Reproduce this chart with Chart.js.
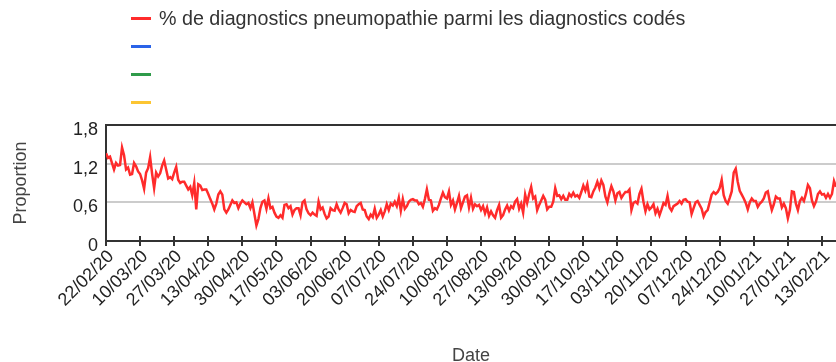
<!DOCTYPE html>
<html lang="fr">
<head>
<meta charset="utf-8">
<title>Pneumopathies</title>
<script src="https://cdn.jsdelivr.net/npm/chart.js"></script>
<style>
  html, body { margin: 0; padding: 0; background: #fff; overflow: hidden; }
  #wrap { position: relative; width: 836px; height: 362px; }
  #legend { position: absolute; left: 131px; top: 4px; font-family: Arial, "Liberation Sans", sans-serif; font-size: 19.7px; color: #333; }
  .row { display: flex; align-items: center; height: 28px; }
  .swatch { width: 20px; height: 3px; margin-right: 8px; }
</style>
</head>
<body>
<div id="wrap">
  <canvas id="chart"></canvas>
  <div id="legend"></div>
</div>
<script>
// --- DATA ---
// daily share (%) from 22/02/20, one value per day
const pneumoShare = [
  1.36, 1.29, 1.31, 1.21, 1.11, 1.21, 1.17, 1.18, 1.45, 1.33,
  1.11, 1.14, 1.03, 1.04, 1.21, 1.16, 1.08, 1.04, 0.94, 0.81,
  1.06, 1.13, 1.30, 1.04, 0.82, 1.06, 1.00, 1.05, 1.17, 1.25,
  1.11, 0.97, 0.99, 0.96, 1.06, 1.15, 0.95, 0.90, 0.92, 0.92,
  0.86, 0.80, 0.84, 0.71, 0.90, 0.49, 0.88, 0.86, 0.79, 0.80,
  0.80, 0.73, 0.65, 0.58, 0.49, 0.58, 0.72, 0.77, 0.72, 0.49,
  0.44, 0.49, 0.56, 0.63, 0.59, 0.60, 0.51, 0.58, 0.63, 0.60,
  0.57, 0.59, 0.51, 0.60, 0.42, 0.24, 0.34, 0.51, 0.61, 0.63,
  0.50, 0.66, 0.51, 0.53, 0.44, 0.38, 0.36, 0.40, 0.36, 0.56,
  0.57, 0.51, 0.54, 0.41, 0.48, 0.51, 0.51, 0.40, 0.60, 0.63,
  0.49, 0.43, 0.40, 0.44, 0.41, 0.39, 0.61, 0.49, 0.52, 0.42,
  0.35, 0.38, 0.51, 0.48, 0.47, 0.57, 0.49, 0.44, 0.51, 0.59,
  0.57, 0.43, 0.48, 0.46, 0.45, 0.54, 0.57, 0.59, 0.49, 0.48,
  0.38, 0.34, 0.41, 0.37, 0.50, 0.36, 0.41, 0.48, 0.38, 0.46,
  0.57, 0.48, 0.58, 0.55, 0.61, 0.54, 0.67, 0.47, 0.65, 0.50,
  0.54, 0.61, 0.64, 0.65, 0.63, 0.63, 0.57, 0.59, 0.53, 0.65,
  0.80, 0.64, 0.63, 0.47, 0.51, 0.49, 0.56, 0.66, 0.75, 0.68,
  0.66, 0.77, 0.56, 0.63, 0.49, 0.59, 0.70, 0.51, 0.60, 0.69,
  0.71, 0.52, 0.67, 0.50, 0.57, 0.54, 0.56, 0.48, 0.54, 0.43,
  0.52, 0.39, 0.46, 0.40, 0.36, 0.48, 0.56, 0.36, 0.40, 0.49,
  0.55, 0.47, 0.54, 0.51, 0.61, 0.65, 0.50, 0.58, 0.44, 0.72,
  0.59, 0.73, 0.84, 0.66, 0.69, 0.48, 0.56, 0.63, 0.70, 0.64,
  0.49, 0.53, 0.53, 0.61, 0.82, 0.70, 0.71, 0.65, 0.70, 0.64,
  0.64, 0.73, 0.69, 0.75, 0.69, 0.71, 0.67, 0.76, 0.86, 0.78,
  0.88, 0.69, 0.68, 0.77, 0.83, 0.92, 0.82, 0.94, 0.87, 0.69,
  0.60, 0.74, 0.85, 0.77, 0.63, 0.74, 0.76, 0.67, 0.72, 0.76,
  0.76, 0.80, 0.48, 0.59, 0.61, 0.58, 0.73, 0.81, 0.61, 0.46,
  0.57, 0.49, 0.52, 0.57, 0.43, 0.50, 0.40, 0.49, 0.59, 0.56,
  0.70, 0.52, 0.47, 0.54, 0.56, 0.58, 0.62, 0.58, 0.64, 0.65,
  0.61, 0.60, 0.42, 0.51, 0.60, 0.62, 0.56, 0.50, 0.38, 0.45,
  0.48, 0.60, 0.72, 0.76, 0.73, 0.76, 0.82, 0.95, 0.71, 0.62,
  0.58, 0.67, 0.77, 1.06, 1.12, 0.92, 0.78, 0.72, 0.66, 0.59,
  0.49, 0.60, 0.66, 0.62, 0.62, 0.53, 0.58, 0.61, 0.66, 0.75,
  0.77, 0.61, 0.48, 0.57, 0.69, 0.66, 0.66, 0.52, 0.58, 0.51,
  0.35, 0.48, 0.77, 0.76, 0.58, 0.48, 0.62, 0.67, 0.62, 0.73,
  0.87, 0.82, 0.63, 0.54, 0.61, 0.73, 0.77, 0.72, 0.73, 0.67,
  0.73, 0.67, 0.73, 0.93, 0.84
];

// one label every 17 days
const xTickLabels = [
  '22/02/20', '10/03/20', '27/03/20', '13/04/20', '30/04/20', '17/05/20',
  '03/06/20', '20/06/20', '07/07/20', '24/07/20', '10/08/20', '27/08/20',
  '13/09/20', '30/09/20', '17/10/20', '03/11/20', '20/11/20', '07/12/20',
  '24/12/20', '10/01/21', '27/01/21', '13/02/21'
];
const xTickStep = 17;
const yTickLabels = ['0', '0,6', '1,2', '1,8'];

const seriesLabels = ['% de diagnostics pneumopathie parmi les diagnostics codés', '', '', ''];
const seriesColors = ['#ff2b2b', '#2a63e8', '#2f9b4a', '#fcc532'];

const FONT = 'Arial, "Liberation Sans", sans-serif';

// --- short tick marks crossing the date axis ---
const crossTicks = {
  id: 'crossTicks',
  afterDraw(chart) {
    const { ctx, chartArea, scales: { x } } = chart;
    ctx.save();
    ctx.strokeStyle = '#333';
    ctx.lineWidth = 2;
    x.ticks.forEach(t => {
      const px = Math.round(x.getPixelForValue(t.value));
      ctx.beginPath();
      ctx.moveTo(px, chartArea.bottom - 5);
      ctx.lineTo(px, chartArea.bottom + 5);
      ctx.stroke();
    });
    ctx.restore();
  }
};

const datasets = seriesLabels.map((label, i) => ({
  label: label,
  data: i === 0 ? pneumoShare.map((v, d) => ({ x: d, y: v })) : [],
  borderColor: seriesColors[i],
  backgroundColor: seriesColors[i],
  borderWidth: 2.5,
  pointRadius: 0,
  tension: 0
}));

const chart = new Chart(document.getElementById('chart'), {
  type: 'line',
  data: { datasets: datasets },
  plugins: [crossTicks],
  options: {
    responsive: true,
    maintainAspectRatio: false,
    animation: false,
    layout: { padding: { top: 125, left: 0, right: 0, bottom: 0 } },
    plugins: { legend: { display: false }, tooltip: { enabled: false } },
    scales: {
      x: {
        type: 'linear',
        min: 0,
        max: 364,
        afterBuildTicks: (scale) => {
          scale.ticks = xTickLabels.map((_, i) => ({ value: i * xTickStep }));
        },
        afterFit: (scale) => {
          scale.height = 121;
          scale.paddingRight = 0;
        },
        ticks: {
          autoSkip: false,
          minRotation: 45,
          maxRotation: 45,
          padding: -3,
          labelOffset: 5,
          color: '#222',
          font: { family: FONT, size: 18 },
          callback: (v) => xTickLabels[Math.round(v / xTickStep)]
        },
        grid: { display: false },
        border: { color: '#333', width: 2 },
        title: {
          display: true,
          text: 'Date',
          color: '#444',
          font: { family: FONT, size: 18 },
          padding: { top: 0, bottom: -5 }
        }
      },
      y: {
        min: 0,
        max: 1.8,
        afterFit: (scale) => { scale.width = 106; },
        ticks: {
          stepSize: 0.6,
          padding: 8,
          labelOffset: 5,
          color: '#222',
          font: { family: FONT, size: 18 },
          callback: (v, i) => yTickLabels[i]
        },
        grid: {
          drawTicks: false,
          lineWidth: 2,
          color: (c) => (c.tick && (c.tick.value === 0 || c.tick.value >= 1.79)) ? '#333' : '#cccccc'
        },
        border: { color: '#333', width: 2 },
        title: {
          display: true,
          text: 'Proportion',
          color: '#444',
          font: { family: FONT, size: 18 },
          padding: { top: 10, bottom: 0 }
        }
      }
    }
  }
});

// legend: one row per series
const legendBox = document.getElementById('legend');
chart.data.datasets.forEach(ds => {
  const row = document.createElement('div');
  row.className = 'row';
  const sw = document.createElement('span');
  sw.className = 'swatch';
  sw.style.background = ds.borderColor;
  const txt = document.createElement('span');
  txt.textContent = ds.label;
  row.appendChild(sw);
  row.appendChild(txt);
  legendBox.appendChild(row);
});
</script>
</body>
</html>
